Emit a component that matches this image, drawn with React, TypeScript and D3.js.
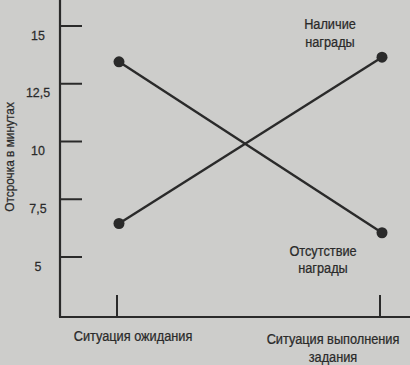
import React from "react";
import * as d3 from "d3";

const categories = ["Ситуация ожидания", "Ситуация выполнения задания"];
const rewardValues = [6.45, 13.65];
const noRewardValues = [13.45, 6.05];
const yTicks = [5, 7.5, 10, 12.5, 15];
const yTitle = "Отсрочка в минутах";
const seriesLabels = [["Наличие", "награды"], ["Отсутствие", "награды"]];

const W = 410, H = 365;
const FONT = "'Liberation Sans', Arial, sans-serif";
const INK = "#2a2a2a";

function Txt({ x, y, children, size = 14.5, sx = 0.88, anchor = "middle", rotate = 0 }: any) {
  return (
    <text
      transform={`translate(${x},${y}) rotate(${rotate}) scale(${sx},1)`}
      textAnchor={anchor}
      fontSize={size}
      fill={INK}
      stroke={INK}
      strokeWidth={0.25}
    >
      {children}
    </text>
  );
}

export default function App() {
  const y = d3.scaleLinear().domain([5, 15]).range([257, 26]);
  const x = d3.scalePoint<string>().domain(categories).range([119, 382]);
  const line = d3.line<number>().x((_, i) => x(categories[i])!).y(d => y(d));
  const axisX = 60, axisY = 317;
  return (
    <div style={{ position: "absolute", left: 0, top: 0, width: W, height: H }}>
      <svg width={W} height={H} style={{ display: "block", background: "#cdcdcb" }} fontFamily={FONT}>
        <rect width={W} height={H} fill="#cdcdcb" />
        <line x1={axisX} y1={0} x2={axisX} y2={axisY} stroke={INK} strokeWidth={2.2} />
        <line x1={axisX - 1} y1={axisY} x2={W} y2={axisY} stroke={INK} strokeWidth={2.2} />
        {yTicks.map(t => (
          <g key={t}>
            <line x1={axisX} x2={axisX + 22} y1={y(t)} y2={y(t)} stroke={INK} strokeWidth={2} />
            <Txt x={38} y={y(t) + 13.5} size={13.5} sx={0.92}>
              {String(t).replace(".", ",")}
            </Txt>
          </g>
        ))}
        {categories.map(c => (
          <line key={c} x1={x(c)! - 2} x2={x(c)! - 2} y1={axisY - 22} y2={axisY} stroke={INK} strokeWidth={2} />
        ))}
        <Txt x={14} y={157} size={13.5} sx={0.88} rotate={-90}>{yTitle}</Txt>
        <Txt x={133} y={341}>{categories[0]}</Txt>
        <Txt x={333} y={344}>Ситуация выполнения</Txt>
        <Txt x={333} y={362}>задания</Txt>
        {[rewardValues, noRewardValues].map((vals, k) => (
          <g key={k}>
            <path d={line(vals)!} fill="none" stroke={INK} strokeWidth={2.4} />
            {vals.map((v, i) => (
              <circle key={i} cx={x(categories[i])!} cy={y(v)} r={5.5} fill={INK} />
            ))}
          </g>
        ))}
        <Txt x={330} y={28.5}>{seriesLabels[0][0]}</Txt>
        <Txt x={330} y={46.5}>{seriesLabels[0][1]}</Txt>
        <Txt x={323} y={256}>{seriesLabels[1][0]}</Txt>
        <Txt x={323} y={273}>{seriesLabels[1][1]}</Txt>
      </svg>
    </div>
  );
}
